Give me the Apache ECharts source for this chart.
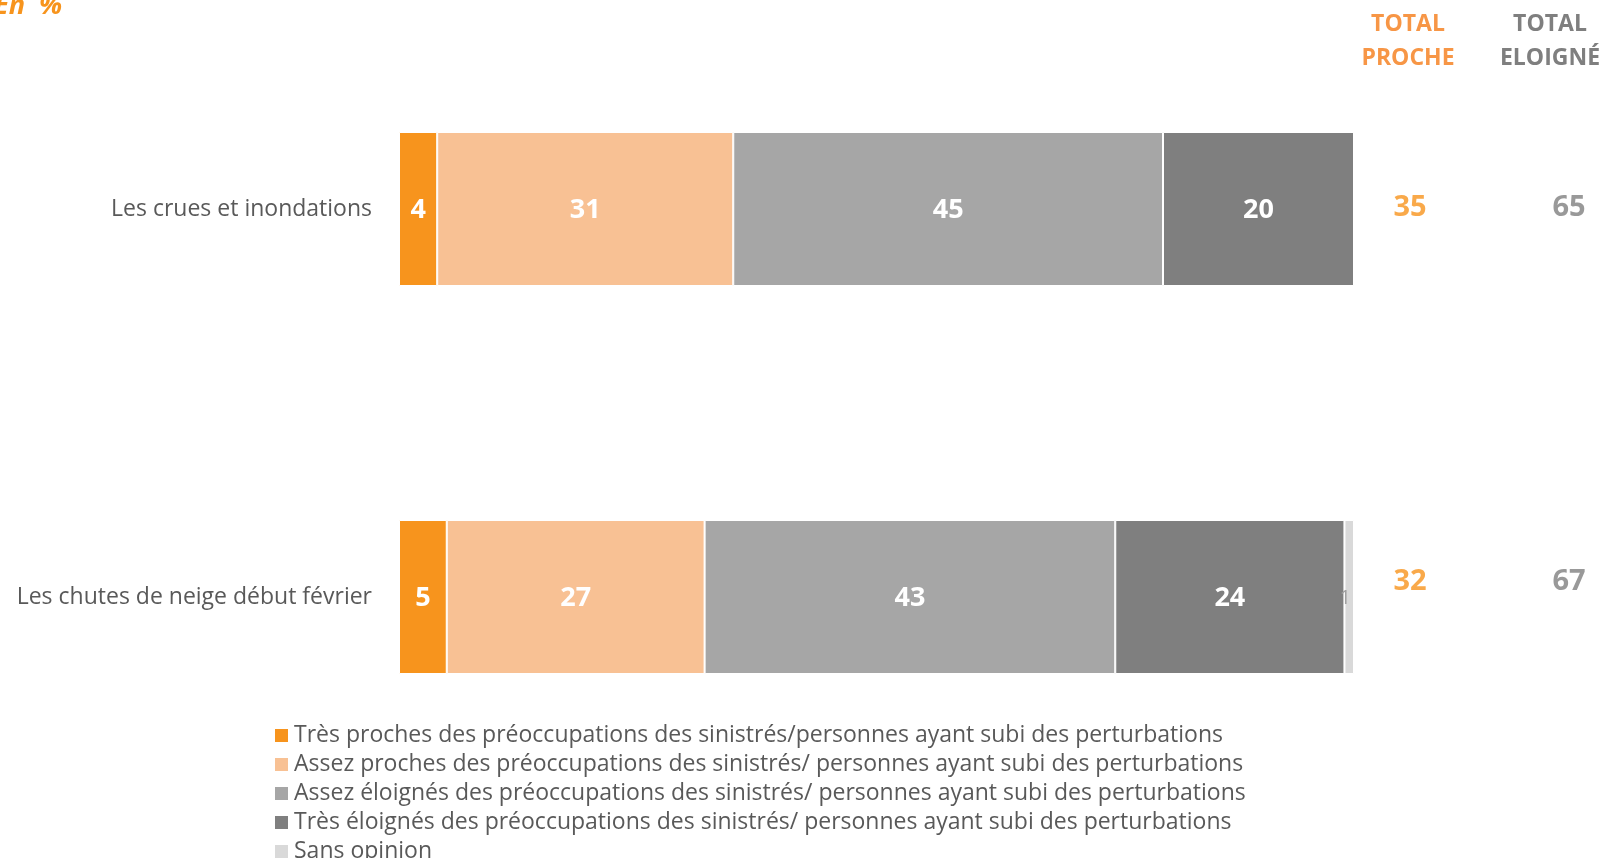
<!DOCTYPE html>
<html>
<head>
<meta charset="utf-8">
<script src="https://cdn.jsdelivr.net/npm/echarts@6/dist/echarts.min.js"></script>
<style>
  html, body { margin: 0; padding: 0; background: #fff; }
  #chart { width: 1603px; height: 858px; }
</style>
</head>
<body>
<div id="chart"></div>
<script>
const categories = ['Les crues et inondations', 'Les chutes de neige début février']
const seriesNames = [
  'Très proches des préoccupations des sinistrés/personnes ayant subi des perturbations',
  'Assez proches des préoccupations des sinistrés/ personnes ayant subi des perturbations',
  'Assez éloignés des préoccupations des sinistrés/ personnes ayant subi des perturbations',
  'Très éloignés des préoccupations des sinistrés/ personnes ayant subi des perturbations',
  'Sans opinion',
]
const tresProches = [4, 5]
const assezProches = [31, 27]
const assezEloignes = [45, 43]
const tresEloignes = [20, 24]
const sansOpinion = [0, 1]
const totalColumns = ['PROCHE', 'ELOIGNÉ']
const totalProche = [35, 32]
const totalEloigne = [65, 67]

const FONT = '"Open Sans", "Noto Sans", sans-serif'
const ORANGE = '#f7941d'
const colors = ['#f7941d', '#f8c194', '#a6a6a6', '#7f7f7f', '#d9d9d9']
const values = [tresProches, assezProches, assezEloignes, tresEloignes, sansOpinion]

function barSeries(i) {
  const small = i === 4
  return {
    name: seriesNames[i],
    type: 'bar',
    stack: 'all',
    barWidth: 154,
    xAxisIndex: 0,
    yAxisIndex: 0,
    itemStyle: { color: colors[i], borderColor: '#fff', borderWidth: 1 },
    label: {
      show: true,
      position: 'inside',
      offset: small ? [-4, 1] : [0, 1],
      color: small ? '#a0a0a0' : '#fff',
      fontFamily: FONT,
      fontWeight: small ? 'normal' : 'bold',
      fontSize: small ? 20 : 27,
      formatter: (p) => (p.value > 0 ? p.value : ''),
    },
    emphasis: { disabled: true },
    data: values[i],
  }
}

function totalSeries(col, arr, color) {
  return {
    type: 'scatter',
    xAxisIndex: 1,
    yAxisIndex: 1,
    symbolSize: 1,
    itemStyle: { color: 'rgba(0,0,0,0)' },
    label: {
      show: true,
      position: 'inside',
      color,
      fontFamily: FONT,
      fontWeight: 'bold',
      fontSize: 29,
      formatter: (p) => p.value[2],
    },
    data: categories.map((c, i) => [col, c, arr[i]]),
  }
}

const chart = echarts.init(document.getElementById('chart'))
chart.setOption({
  animation: false,
  textStyle: { fontFamily: FONT },
  grid: [
    { left: 399, width: 955, top: 15, height: 776 },
    { left: 1410, width: 159, top: 20.5, height: 748 },
  ],
  xAxis: [
    { type: 'value', gridIndex: 0, min: 0, max: 100, show: false },
    { type: 'category', gridIndex: 1, data: totalColumns, boundaryGap: false, show: false },
  ],
  yAxis: [
    {
      type: 'category',
      gridIndex: 0,
      inverse: true,
      data: categories,
      axisLine: { show: false },
      axisTick: { show: false },
      axisLabel: { margin: 27, color: '#595959', fontSize: 23, fontFamily: FONT, padding: [4, 0, 0, 0] },
    },
    { type: 'category', gridIndex: 1, inverse: true, data: categories, show: false },
  ],
  legend: {
    orient: 'vertical',
    left: 268,
    top: 719,
    height: 200,
    itemWidth: 15,
    itemHeight: 15,
    itemGap: 6,
    icon: 'rect',
    selectedMode: false,
    data: seriesNames,
    textStyle: { color: '#595959', fontSize: 23, fontFamily: FONT },
  },
  graphic: [
    {
      type: 'text',
      x: -6,
      y: 6,
      style: {
        text: 'En  %',
        fill: ORANGE,
        font: `italic bold 27px ${FONT}`,
        verticalAlign: 'middle',
      },
    },
    {
      type: 'text',
      x: 1408,
      y: 7,
      style: {
        text: 'TOTAL\nPROCHE',
        fill: '#f79646',
        font: `bold 23px ${FONT}`,
        lineHeight: 34.5,
        align: 'center',
        verticalAlign: 'top',
      },
    },
    {
      type: 'text',
      x: 1550,
      y: 7,
      style: {
        text: 'TOTAL\nELOIGNÉ',
        fill: '#7f7f7f',
        font: `bold 23px ${FONT}`,
        lineHeight: 34.5,
        align: 'center',
        verticalAlign: 'top',
      },
    },
  ],
  series: [
    ...values.map((_, i) => barSeries(i)),
    totalSeries('PROCHE', totalProche, ORANGE),
    totalSeries('ELOIGNÉ', totalEloigne, '#7f7f7f'),
  ],
})
</script>
</body>
</html>
